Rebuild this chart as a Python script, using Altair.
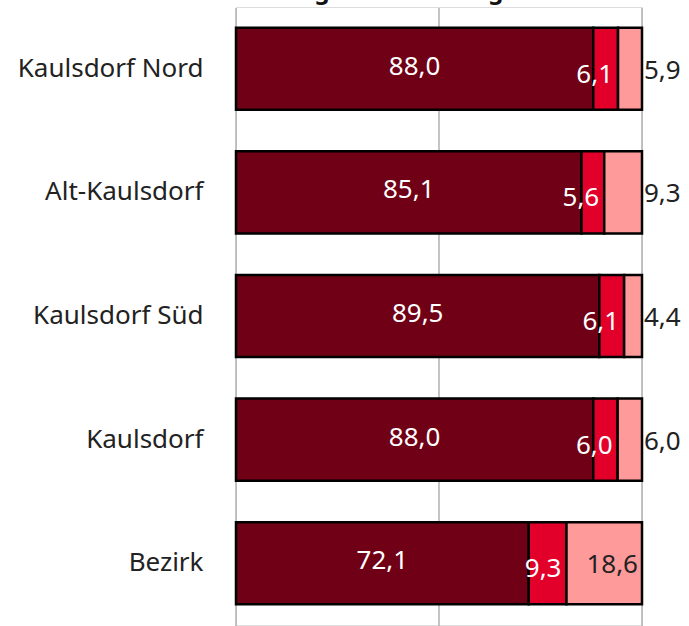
import altair as alt
import pandas as pd

title_text = ["Einwohnerinnen nach Migrationshintergrund"]
areas = ["Kaulsdorf Nord", "Alt-Kaulsdorf", "Kaulsdorf Süd", "Kaulsdorf", "Bezirk"]
groups = ["Deutsche ohne Migrationshintergrund", "Deutsche mit Migrationshintergrund", "Ausländer"]
v_dark = [88.0, 85.1, 89.5, 88.0, 72.1]
v_red = [6.1, 5.6, 6.1, 6.0, 9.3]
v_pink = [5.9, 9.3, 4.4, 6.0, 18.6]
colors = ["#700015", "#e2002a", "#ff9a9a"]

rows = []
for i, a in enumerate(areas):
    start = 0.0
    for k, (g, vals) in enumerate(zip(groups, [v_dark, v_red, v_pink])):
        v = vals[i]
        rows.append({"area": a, "group": g, "k": k, "value": v,
                     "x0": start, "x1": start + v,
                     "label": f"{v:.1f}".replace(".", ",")})
        start += v
df = pd.DataFrame(rows)

FONT = "Noto Sans"
FS = 26
yenc = alt.Y("area:N", sort=areas, title=None,
             scale=alt.Scale(paddingInner=0.336, paddingOuter=0.168),
             axis=alt.Axis(domain=False, ticks=False, labelPadding=33,
                           labelFontSize=FS, labelFont=FONT, labelColor="#222222",
                           labelFontWeight="normal", labelLimit=300))
xscale = alt.Scale(domain=[0, 100], nice=False)

base = alt.Chart(df)

grid = alt.Chart(pd.DataFrame({"g": [0, 50, 100]})).mark_rule(
    color="#b0b0b0", strokeWidth=1.5).encode(
    x=alt.X("g:Q", scale=xscale, axis=None),
    y=alt.value(1), y2=alt.value(626))

bars = base.mark_bar(stroke="black", strokeWidth=2.5).encode(
    x=alt.X("x0:Q", scale=xscale, axis=None),
    x2="x1:Q",
    y=yenc,
    color=alt.Color("group:N", scale=alt.Scale(domain=groups, range=colors), legend=None),
)

lab_dark = base.transform_filter("datum.k == 0").mark_text(
    color="white", fontSize=FS, font=FONT, align="center", baseline="middle", dy=-2
).encode(x=alt.X("mid:Q", scale=xscale), y=alt.Y("area:N", sort=areas), text="label:N"
).transform_calculate(mid="(datum.x0 + datum.x1) / 2")

lab_red = base.transform_filter("datum.k == 1").mark_text(
    color="white", fontSize=FS, font=FONT, align="right", baseline="middle", dx=-5, dy=6
).encode(x=alt.X("x1:Q", scale=xscale), y=alt.Y("area:N", sort=areas), text="label:N")

lab_pink_out = base.transform_filter("datum.k == 2 && datum.value < 10").mark_text(
    color="#222222", fontSize=FS, font=FONT, align="left", baseline="middle", dx=2, dy=2
).encode(x=alt.X("x1:Q", scale=xscale), y=alt.Y("area:N", sort=areas), text="label:N")

lab_pink_in = base.transform_filter("datum.k == 2 && datum.value >= 10").mark_text(
    color="#222222", fontSize=FS, font=FONT, align="right", baseline="middle", dx=-4, dy=2
).encode(x=alt.X("x1:Q", scale=xscale), y=alt.Y("area:N", sort=areas), text="label:N")

title = alt.Chart(pd.DataFrame({"t": title_text})).mark_text(
    fontSize=24, fontWeight="bold", font=FONT, align="left", baseline="alphabetic",
    color="#111111"
).encode(x=alt.value(-218), y=alt.value(-8.5), text="t:N")

chart = alt.layer(grid, bars, lab_dark, lab_red, lab_pink_out, lab_pink_in, title).properties(
    width=406, height=618,
    autosize=alt.AutoSizeParams(type="none"),
    padding={"left": 236, "top": 7, "right": 47, "bottom": 1},
).configure_view(stroke=None).configure(background="white")

chart.save("out.html", embed_options={"renderer": "svg", "actions": False})
